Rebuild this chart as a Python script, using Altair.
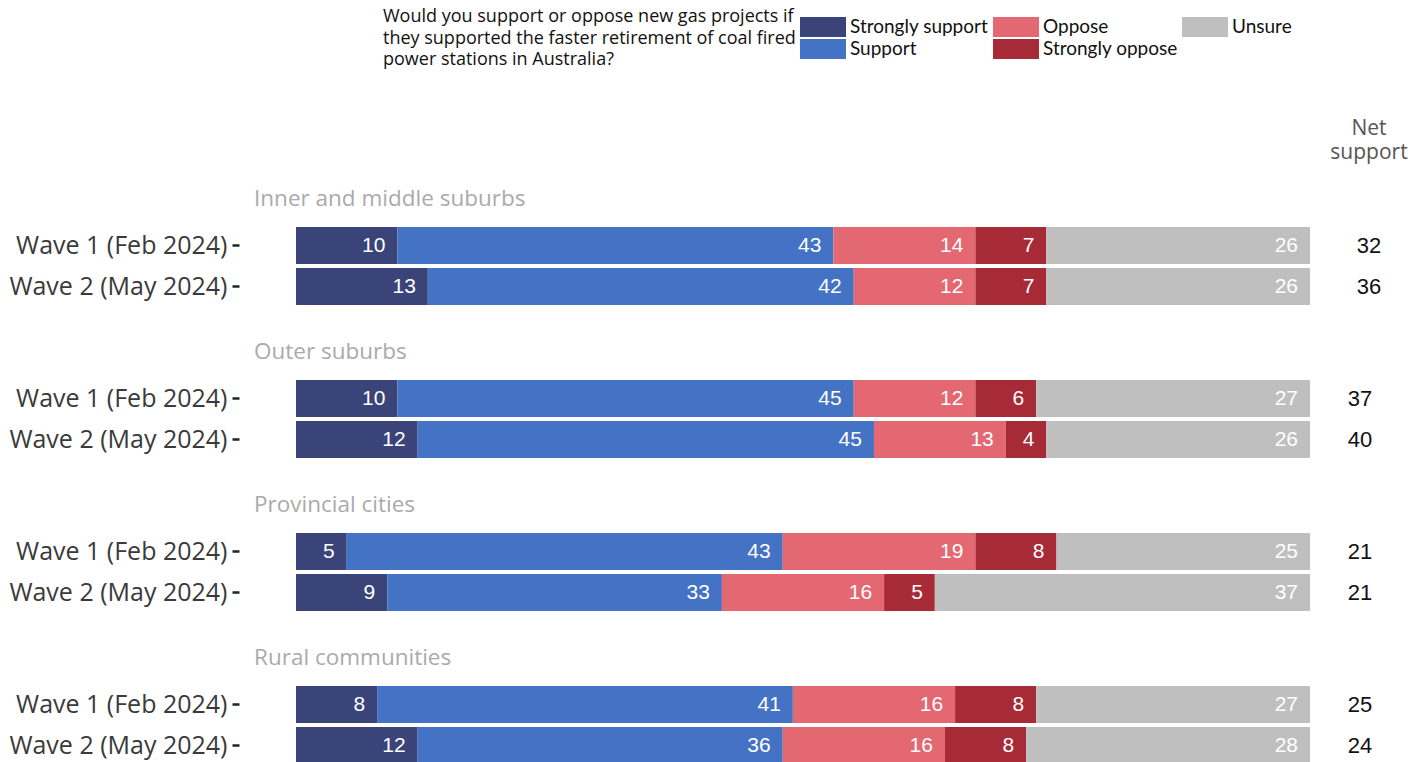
import altair as alt
import pandas as pd

groups = ["Inner and middle suburbs", "Outer suburbs", "Provincial cities", "Rural communities"]
waves = ["Wave 1 (Feb 2024)", "Wave 2 (May 2024)"]
categories = ["Strongly support", "Support", "Oppose", "Strongly oppose", "Unsure"]
colors = ["#3a4479", "#4472c4", "#e36872", "#a62b36", "#bfbfbf"]

# rows: group0 wave1, group0 wave2, group1 wave1, ...
strongly_support = [10, 13, 10, 12, 5, 9, 8, 12]
support = [43, 42, 45, 45, 43, 33, 41, 36]
oppose = [14, 12, 12, 13, 19, 16, 16, 16]
strongly_oppose = [7, 7, 6, 4, 8, 5, 8, 8]
unsure = [26, 26, 27, 26, 25, 37, 27, 28]
net_support = [32, 36, 37, 40, 21, 21, 25, 24]

question = ["Would you support or oppose new gas projects if",
            "they supported the faster retirement of coal fired",
            "power stations in Australia?"]

series = [strongly_support, support, oppose, strongly_oppose, unsure]
rows = []
net_rows = []
for gi, g in enumerate(groups):
    for wi, w in enumerate(waves):
        idx = gi * 2 + wi
        for ci, c in enumerate(categories):
            rows.append({"group": g, "wave": w, "category": c, "order": ci, "value": series[ci][idx]})
        net_rows.append({"group": g, "wave": w, "net": net_support[idx]})
df = pd.DataFrame(rows)
net_df = pd.DataFrame(net_rows)

TEXT_FONT = "Open Sans"
LEG_FONT = "Lato"
NUM_FONT = "Liberation Sans"


def yscale():
    return alt.Scale(type="band", paddingInner=0.1, paddingOuter=0.05)


color_enc = alt.Color(
    "category:N",
    scale=alt.Scale(domain=categories, range=colors),
    legend=alt.Legend(
        title=question, titleOrient="left", titleFont=TEXT_FONT, titleFontSize=18,
        titleFontWeight="normal", titleColor="#111", titleLimit=600, titleLineHeight=21.5,
        titleBaseline="middle", titleAnchor="start", titlePadding=17,
        orient="none", legendX=87, legendY=-208, columns=3,
        symbolType="M-2.3,-1H2.3V1H-2.3Z", symbolSize=400, symbolStrokeWidth=0,
        symbolOpacity=1, labelFont=LEG_FONT, labelFontSize=19, labelColor="#111",
        labelOffset=17, columnPadding=4, rowPadding=2, labelLimit=400,
    ),
)


def bar_panel(g):
    base = alt.Chart(df).transform_filter(alt.datum.group == g)
    yenc = alt.Y("wave:N", sort=waves, scale=yscale(),
                 axis=alt.Axis(title=None, domain=False, ticks=True, tickSize=7, tickWidth=2.5,
                               tickColor="#222", labelFont=TEXT_FONT, labelFontSize=25,
                               labelColor="#3a3a3a", labelPadding=5, offset=57, labelLimit=400))
    bars = base.mark_bar().encode(
        x=alt.X("value:Q", stack="zero", scale=alt.Scale(domain=[0, 100], nice=False), axis=None),
        y=yenc,
        color=color_enc,
        order=alt.Order("order:Q"),
    )
    text = base.mark_text(align="right", baseline="middle", dx=-12, color="white",
                          font=NUM_FONT, fontSize=21).encode(
        x=alt.X("value:Q", stack="zero"),
        y=alt.Y("wave:N", sort=waves, scale=yscale()),
        detail="category:N",
        order=alt.Order("order:Q"),
        text="value:Q",
    )
    return alt.layer(bars, text).properties(
        width=1014, height=alt.Step(41),
        title=alt.TitleParams(g, anchor="start", frame="group", dx=-42, fontSize=22.5,
                              font=TEXT_FONT, fontWeight="normal", color="#aaaaaa", offset=15),
    )


def net_panel(g, first):
    c = alt.Chart(net_df).transform_filter(alt.datum.group == g).mark_text(
        font=NUM_FONT, fontSize=22, color="#111", baseline="middle").encode(
        y=alt.Y("wave:N", sort=waves, scale=yscale(), axis=None),
        text="net:Q",
    )
    if first:
        return c.properties(width=60, height=alt.Step(41),
                            title=alt.TitleParams(["Net", "support"], anchor="middle", fontSize=21,
                                                  font=TEXT_FONT, fontWeight="normal", color="#555",
                                                  offset=62, lineHeight=24))
    return c.properties(width=60, height=alt.Step(41))


rows_charts = [alt.hconcat(bar_panel(g), net_panel(g, i == 0), spacing=20) for i, g in enumerate(groups)]
chart = alt.vconcat(*rows_charts, spacing=33).properties(
    padding={"left": 0, "top": 9, "right": 0, "bottom": 0}
).configure_view(stroke=None)

chart.save("out.html", embed_options={"renderer": "svg", "actions": False})
